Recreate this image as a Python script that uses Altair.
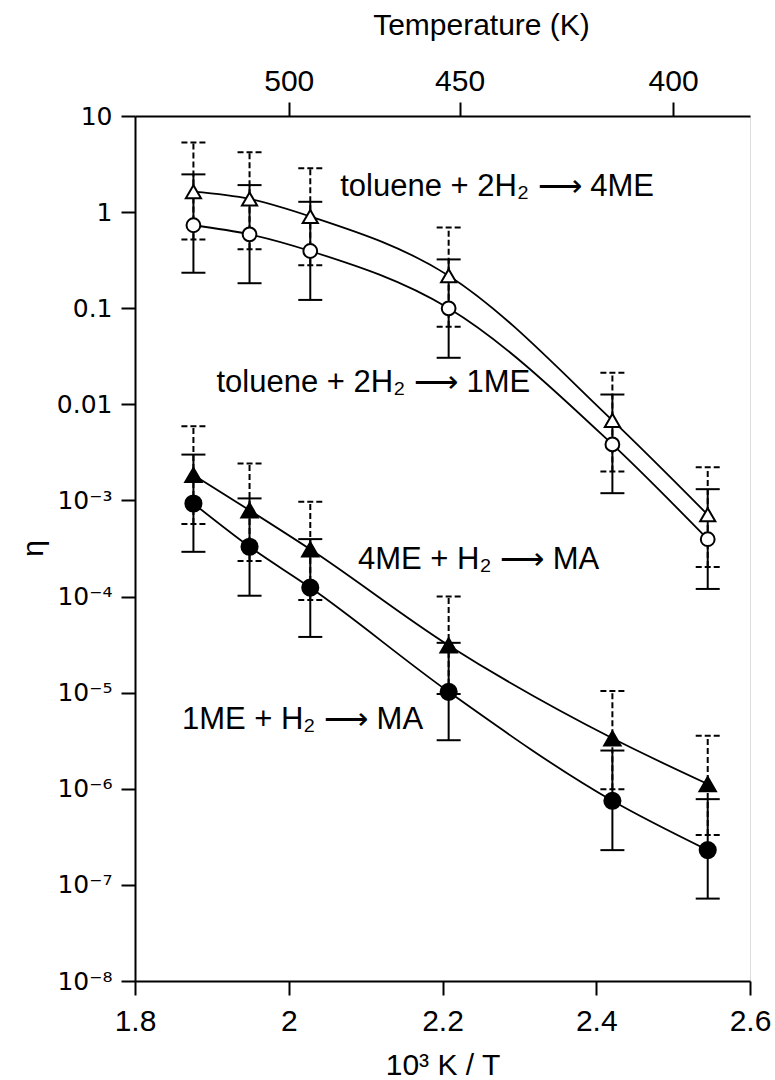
import altair as alt
import pandas as pd

# 10^3 K / T positions of the six measurements
x_vals = [1.876, 1.949, 2.028, 2.208, 2.421, 2.545]

# toluene + 2H2 -> 4ME (open triangles, dashed error bars)
tol4_v = [1.63, 1.37, 0.90, 0.218, 0.0068, 0.00071]
tol4_hi = [5.3, 4.19, 2.86, 0.69, 0.0213, 0.00222]
tol4_lo = [0.52, 0.41, 0.28, 0.064, 0.0020, 0.000203]

# toluene + 2H2 -> 1ME (open circles, solid error bars)
tol1_v = [0.73, 0.587, 0.394, 0.0998, 0.00383, 0.000395]
tol1_hi = [2.47, 1.91, 1.28, 0.322, 0.01265, 0.00131]
tol1_lo = [0.234, 0.182, 0.122, 0.0305, 0.00119, 0.00012]

# 4ME + H2 -> MA (filled triangles, dashed error bars)
me4_v = [0.00184, 0.00079, 0.00031, 3.1e-5, 3.35e-6, 1.12e-6]
me4_hi = [0.0059, 0.00243, 0.00097, 1.0e-4, 1.04e-5, 3.56e-6]
me4_lo = [0.000568, 0.000234, 9.2e-5, 9.7e-6, 9.9e-7, 3.3e-7]

# 1ME + H2 -> MA (filled circles, solid error bars)
me1_v = [0.00093, 0.00033, 0.000124, 1.02e-5, 7.5e-7, 2.3e-7]
me1_hi = [0.0030, 0.00105, 0.000396, 3.3e-5, 2.5e-6, 7.8e-7]
me1_lo = [0.000292, 0.000102, 3.8e-5, 3.2e-6, 2.3e-7, 7.2e-8]

# annotation texts and their anchors (data units)
ann_text = ["toluene + 2H₂ ⟶ 4ME", "toluene + 2H₂ ⟶ 1ME", "4ME + H₂ ⟶ MA", "1ME + H₂ ⟶ MA"]
ann_x = [2.067, 1.906, 2.090, 1.861]
ann_y = [1.84, 0.0167, 2.4e-4, 5.2e-6]

x_ticks = [1.8, 2.0, 2.2, 2.4, 2.6]
temp_ticks = [500, 450, 400]
y_ticks = [10, 1, 0.1, 0.01, 1e-3, 1e-4, 1e-5, 1e-6, 1e-7, 1e-8]
y_labels = ["10", "1", "0.1", "0.01", "10⁻³", "10⁻⁴", "10⁻⁵", "10⁻⁶", "10⁻⁷", "10⁻⁸"]

rows = []
for name, v, lo, hi in [("tol4", tol4_v, tol4_lo, tol4_hi),
                        ("tol1", tol1_v, tol1_lo, tol1_hi),
                        ("me4", me4_v, me4_lo, me4_hi),
                        ("me1", me1_v, me1_lo, me1_hi)]:
    for x, a, b, c in zip(x_vals, v, lo, hi):
        rows.append({"series": name, "x": x, "v": a, "lo": b, "hi": c})
df = pd.DataFrame(rows)
ann = pd.DataFrame({"t": ann_text, "x": ann_x, "y": ann_y})

xs = alt.Scale(domain=[1.8, 2.6], nice=False, zero=False)
ys = alt.Scale(type="log", domain=[1e-8, 10], nice=False)

FONT = "Liberation Sans"

x_bottom = alt.X("x:Q", scale=xs, axis=alt.Axis(
    values=x_ticks, format="~g", title="10³ K / T", orient="bottom",
    labelFontSize=30, labelFont=FONT, labelPadding=11, labelColor="black",
    tickSize=14, tickWidth=2, tickColor="black", domainWidth=2, domainColor="black",
    titleFontSize=30, titleFont=FONT, titleFontWeight="normal", titleColor="black",
    titlePadding=14, grid=False, labelFlush=False, labelOverlap=False))

temp_vals = [1000.0 / t for t in temp_ticks]
x_top = alt.X("x:Q", scale=xs, axis=alt.Axis(
    values=temp_vals, labelExpr="format(1000/datum.value, '.0f')",
    title="Temperature (K)", orient="top",
    labelFontSize=30, labelFont=FONT, labelPadding=6, labelColor="black",
    tickSize=14, tickWidth=2, tickColor="black", domainWidth=2, domainColor="black",
    titleFontSize=30, titleFont=FONT, titleFontWeight="normal", titleColor="black",
    titlePadding=26, titleX=346, grid=False, labelOverlap=False))

label_expr = "[" + ",".join("'" + s + "'" for s in y_labels) + "][round(1 - log(datum.value)/LN10)]"
y_left = alt.Y("v:Q", scale=ys, axis=alt.Axis(
    values=y_ticks, labelExpr=label_expr, title="η", orient="left",
    labelFontSize=25, labelFont="DejaVu Sans", labelPadding=9, labelColor="black",
    tickSize=14, tickWidth=2, tickColor="black", domainWidth=2, domainColor="black",
    titleFontSize=30, titleFont=FONT, titleFontWeight="normal", titleColor="black",
    titleX=-102, titleY=432, titleBaseline="middle", grid=False,
    labelOverlap=False, labelFlush=False))

x_none = alt.X("x:Q", scale=xs, axis=None)
base = alt.Chart(df)

lines = base.mark_line(interpolate="monotone", color="black", strokeWidth=1.8).encode(
    x=x_bottom, y=y_left, detail="series:N")

top_axis = base.mark_point(opacity=0).encode(
    x=x_top, y=alt.Y("v:Q", scale=ys, axis=None))


def bars(names, dash):
    kw = {"strokeDash": dash} if dash else {}
    sub = base.transform_filter(alt.FieldOneOfPredicate(field="series", oneOf=names))
    bar = sub.mark_rule(color="black", strokeWidth=2, **kw).encode(
        x=x_none, y=alt.Y("lo:Q", scale=ys, axis=None), y2="hi:Q")
    caps = sub.transform_fold(["lo", "hi"], as_=["k", "val"]).mark_rule(
        color="black", strokeWidth=2, xOffset=-12, x2Offset=12, **kw).encode(
        x=x_none, x2="x:Q", y=alt.Y("val:Q", scale=ys, axis=None))
    return bar + caps


dashed = bars(["tol4", "me4"], [6, 3])
solid = bars(["tol1", "me1"], None)


def pts(name, shape, fill, size):
    return base.transform_filter(alt.datum.series == name).mark_point(
        shape=shape, filled=True, fill=fill, stroke="black", strokeWidth=2,
        size=size, opacity=1).encode(x=x_none, y=alt.Y("v:Q", scale=ys, axis=None))


markers = (pts("tol4", "triangle-up", "white", 230) + pts("tol1", "circle", "white", 190)
           + pts("me4", "triangle-up", "black", 270) + pts("me1", "circle", "black", 260))

texts = alt.Chart(ann).mark_text(align="left", baseline="middle", font=FONT,
                                 fontSize=31, color="black").encode(
    x=x_none, y=alt.Y("y:Q", scale=ys, axis=None), text="t:N")

chart = alt.layer(lines, top_axis, dashed, solid, markers, texts).resolve_axis(
    x="independent", y="independent"
).properties(
    width=615, height=865,
    padding={"left": 135, "top": 116, "right": 25, "bottom": 99},
    autosize=alt.AutoSizeParams(type="none"),
).configure_view(stroke="black", strokeWidth=2).configure(background="white")

chart.save("out.html", embed_options={"renderer": "svg", "actions": False})
